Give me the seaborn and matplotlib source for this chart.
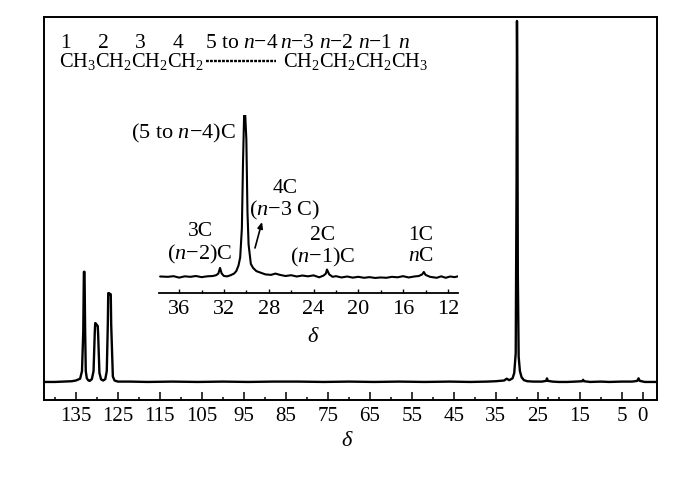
import matplotlib
matplotlib.use("Agg")
import matplotlib.pyplot as plt
import seaborn as sns
from matplotlib.lines import Line2D
from matplotlib.ticker import FixedLocator

sns.set_theme(style="ticks")
plt.rcParams['font.family'] = ['Liberation Serif', 'DejaVu Serif']
plt.rcParams['mathtext.fontset'] = 'custom'
plt.rcParams['mathtext.rm'] = 'Liberation Serif'
plt.rcParams['mathtext.it'] = 'Liberation Serif:italic'
plt.rcParams['mathtext.default'] = 'rm'

# Main spectrum
main_ppm = [142.5, 140, 138, 136, 135, 134.0, 133.55, 133.25, 133.1, 132.95, 132.8, 132.65, 132.4, 132.0, 131.7, 131.2,
            130.8, 130.5, 130.4, 130.25, 130.1, 129.95, 129.8, 129.7, 129.4, 129.0, 128.5, 128.0, 127.65, 127.4,
            127.3, 127.1, 126.9, 126.7, 126.6, 126.2, 125.8, 125, 122, 118, 112, 106, 100, 94, 88, 82, 76, 70, 64,
            58, 52, 46, 41, 37, 35, 33, 32.4, 31.8, 31.0, 30.6, 30.25, 30.05, 29.95, 29.85, 29.75, 29.55, 29.25, 28.85, 28.3,
            27.5, 26, 24, 23, 22.8, 22.6, 21.5, 20, 18, 16, 14.4, 14.2, 14.0, 12.5, 10, 8, 5, 2.5, 1.3, 1.0, 0.7, -0.5, -3.3]
main_int = [0.0, 0.0, 0.1, 0.2, 0.4, 0.9, 3.0, 14.0, 30.5, 30.5, 14.0, 3.0, 1.0, 0.4, 0.3, 0.8,
            3.0, 14.0, 16.3, 16.2, 15.9, 15.7, 15.5, 13.0, 2.5, 0.7, 0.4, 0.8, 3.0, 16.0,
            24.6, 24.6, 24.3, 24.3, 16.0, 1.5, 0.4, 0.1, 0.1, 0.0, 0.1, 0.0, 0.1, 0.0, 0.1, 0.1, 0.0, 0.1, 0.0,
            0.1, 0.0, 0.1, 0.0, 0.1, 0.2, 0.4, 0.9, 0.5, 1.0, 2.5, 8.0, 55.0, 100.0, 80.0, 30.0, 7.0, 3.0, 1.3, 0.5,
            0.2, 0.1, 0.1, 0.3, 1.0, 0.3, 0.1, 0.0, 0.0, 0.1, 0.2, 0.6, 0.2, 0.0, 0.1, 0.0, 0.1, 0.1, 0.3, 1.0, 0.3, 0.0, 0.0]

# Inset spectrum
inset_ppm = [37.7, 37, 36.5, 36, 35.5, 35, 34.5, 34, 33.5, 33, 32.7, 32.5, 32.35, 32.2, 32.0, 31.7, 31.4, 31.1, 30.9,
             30.7, 30.55, 30.4, 30.3, 30.2, 30.1, 30.0, 29.9, 29.8, 29.6, 29.4, 29.1, 28.7, 28.3, 27.8, 27.4, 27, 26.5,
             26, 25.5, 25, 24.5, 24, 23.5, 23.1, 22.9, 22.8, 22.6, 22.3, 22, 21.5, 21, 20.5, 20, 19.5, 19, 18.5, 18,
             17.5, 17, 16.5, 16, 15.5, 15, 14.6, 14.3, 14.15, 14.0, 13.6, 13, 12.6, 12.2, 11.8, 11.4, 11.1]
inset_int = [0.2, 0.0, 0.4, -0.5, 0.3, 0.0, 0.5, -0.2, 0.3, 0.5, 1.0, 2.0, 5.5, 2.0, 0.5, 0.3, 1.0, 2.0, 3.5,
             7.0, 12.0, 30.0, 70.0, 100.0, 100.0, 85.0, 40.0, 20.0, 8.0, 5.5, 3.5, 2.5, 1.5, 1.2, 2.0, 1.2, 0.5,
             1.0, 0.2, 0.8, 0.3, 0.9, -0.3, 0.8, 2.0, 4.5, 1.5, 0.0, 0.4, -0.4, 0.2, -0.5, 0.0, -0.6, -0.2, -0.7, -0.4,
             -0.6, 0.0, -0.3, 0.4, -0.4, 0.2, 0.5, 1.5, 3.0, 1.2, 0.0, -0.6, 0.3, -0.6, 0.2, -0.2, 0.3]

main_ticks = [135, 125, 115, 105, 95, 85, 75, 65, 55, 45, 35, 25, 15, 5, 0]
main_minor = [140, 130, 120, 110, 100, 90, 80, 70, 60, 50, 40, 30, 22.5, 20, 10]
inset_ticks = [36, 32, 28, 24, 20, 16, 12]
inset_minor = [34, 30, 26, 22, 18, 14]

W, H = 700, 481
fig = plt.figure(figsize=(7.0, 4.81), dpi=100, facecolor="white")


def box(l, t, r, b):
    return [l / W, 1 - b / H, (r - l) / W, (b - t) / H]


def put(x, y, s, **kw):
    kw.setdefault("ha", "center")
    kw.setdefault("va", "center")
    kw.setdefault("fontsize", 15.5)
    fig.text(x / W, 1 - y / H, s, color="black", **kw)


ax = fig.add_axes(box(44, 18, 657, 401))
sns.lineplot(x=main_ppm, y=main_int, ax=ax, color="black", lw=1.7, estimator=None, sort=False, errorbar=None)
ax.set_xlim(142.6, -3.4)
ax.set_ylim(-5.0, 101.1)
ax.set_yticks([])
ax.set_xticks(main_ticks)
ax.xaxis.set_minor_locator(FixedLocator(main_minor))
ax.tick_params(axis="x", which="major", direction="in", length=5.5, width=1.1, labelsize=15, pad=4, color="black", labelcolor="black")
ax.tick_params(axis="x", which="minor", direction="in", length=2.5, width=1.1, color="black")
for s in ax.spines.values():
    s.set_linewidth(1.4)
    s.set_color("black")
    s.set_visible(True)

ins = fig.add_axes(box(159, 116, 458, 294))
ins.patch.set_alpha(0)
sns.lineplot(x=inset_ppm, y=inset_int, ax=ins, color="black", lw=1.5, estimator=None, sort=False, errorbar=None)
ins.set_xlim(37.8, 11.1)
ins.set_ylim(-10.0, 100)
ins.set_yticks([])
ins.set_xticks(inset_ticks)
ins.xaxis.set_minor_locator(FixedLocator(inset_minor))
ins.xaxis.tick_bottom()
ins.tick_params(axis="x", which="major", direction="in", length=3, width=1.0, labelsize=16, pad=4, color="black", labelcolor="black")
ins.tick_params(axis="x", which="minor", direction="in", length=2, width=1.0, color="black")
for n, s in ins.spines.items():
    s.set_visible(n == "bottom")
    s.set_linewidth(1.3)
    s.set_color("black")
ins.set_xlabel("")
ax.set_xlabel("")
ax.set_ylabel("")
ins.set_ylabel("")

put(347, 442, r"$\mathit{\delta}$", fontsize=16)
put(313, 338, r"$\mathit{\delta}$", fontsize=16)

# Structure formula
for x, s in [(65, "1"), (103, "2"), (140, "3"), (178, "4")]:
    put(x, 43, s)
put(205, 43, r"5 to $\mathit{n}$−4", ha="left")
put(280, 43, r"$\mathit{n}$−3", ha="left")
put(319, 43, r"$\mathit{n}$−2", ha="left")
put(358, 43, r"$\mathit{n}$−1", ha="left")
put(398, 43, r"$\mathit{n}$", ha="left")
put(59, 67, r"$\mathrm{CH_3CH_2CH_2CH_2}$", ha="left", va="baseline", fontsize=14.7)
put(283, 67, r"$\mathrm{CH_2CH_2CH_2CH_3}$", ha="left", va="baseline", fontsize=14.7)
fig.add_artist(Line2D([206 / W, 276 / W], [1 - 62 / H, 1 - 62 / H], color="black", lw=1.7, dashes=(1.2, 0.5)))

# Peak labels
put(183, 133, r"(5 to $\mathit{n}$−4)C", fontsize=16)
put(285, 189, "4C")
put(285, 210, r"($\mathit{n}$−3 C)", fontsize=16)
put(200, 232, "3C")
put(200, 254, r"($\mathit{n}$−2)C", fontsize=16)
put(323, 236, "2C")
put(323, 257, r"($\mathit{n}$−1)C", fontsize=16)
put(421, 236, "1C")
put(421, 257, r"$\mathit{n}$C")
ax.annotate("", xy=(262 / W, 1 - 223 / H), xytext=(255 / W, 1 - 249 / H),
            xycoords="figure fraction", textcoords="figure fraction",
            arrowprops=dict(arrowstyle="-|>,head_width=0.13,head_length=0.3", lw=1.2, color="black", shrinkA=0, shrinkB=0))

fig.savefig("out.png", dpi=100, facecolor="white")
